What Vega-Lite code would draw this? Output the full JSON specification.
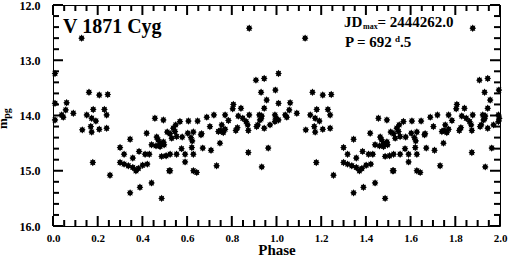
{
  "$schema": "https://vega.github.io/schema/vega-lite/v6.json",
  "width": 447,
  "height": 221,
  "autosize": {"type": "none"},
  "padding": {"left": 53, "top": 5, "right": 9, "bottom": 38},
  "background": "white",
  "datasets": {
    "pts": [
      {"phase":0.128,"mag":12.60},{"phase":0.878,"mag":12.42},{"phase":0.009,"mag":13.24},{"phase":0.908,"mag":13.36},{"phase":0.945,"mag":13.33},{"phase":0.161,"mag":13.58},{"phase":0.207,"mag":13.63},{"phase":0.245,"mag":13.62},{"phase":0.931,"mag":13.58},{"phase":0.995,"mag":13.54},{"phase":0.956,"mag":13.72},
      {"phase":0.009,"mag":13.78},{"phase":0.061,"mag":13.77},{"phase":0.057,"mag":13.90},{"phase":0.039,"mag":13.99},{"phase":0.046,"mag":14.03},{"phase":0.091,"mag":13.96},{"phase":0.009,"mag":14.08},{"phase":0.151,"mag":13.99},{"phase":0.180,"mag":13.89},{"phase":0.173,"mag":14.05},{"phase":0.192,"mag":14.10},{"phase":0.230,"mag":13.89},{"phase":0.240,"mag":13.99},{"phase":0.131,"mag":14.26},{"phase":0.169,"mag":14.20},{"phase":0.173,"mag":14.30},{"phase":0.207,"mag":14.25},{"phase":0.240,"mag":14.23},{"phase":0.178,"mag":14.85},{"phase":0.255,"mag":15.08},
      {"phase":0.300,"mag":14.58},{"phase":0.318,"mag":14.70},{"phase":0.345,"mag":14.43},{"phase":0.357,"mag":14.77},{"phase":0.385,"mag":14.65},{"phase":0.412,"mag":14.70},{"phase":0.431,"mag":14.70},{"phase":0.441,"mag":14.53},{"phase":0.461,"mag":14.55},{"phase":0.479,"mag":14.50},{"phase":0.486,"mag":14.74},{"phase":0.506,"mag":14.73},{"phase":0.300,"mag":14.85},{"phase":0.318,"mag":14.88},{"phase":0.337,"mag":14.91},{"phase":0.357,"mag":14.94},{"phase":0.371,"mag":15.00},{"phase":0.382,"mag":14.96},{"phase":0.401,"mag":14.90},{"phase":0.422,"mag":14.88},{"phase":0.345,"mag":15.40},{"phase":0.389,"mag":15.30},{"phase":0.441,"mag":15.22},{"phase":0.486,"mag":15.50},{"phase":0.520,"mag":15.00},{"phase":0.419,"mag":14.32},{"phase":0.456,"mag":14.05},{"phase":0.494,"mag":14.08},{"phase":0.464,"mag":14.39},{"phase":0.470,"mag":14.44},{"phase":0.479,"mag":14.56},{"phase":0.494,"mag":14.48},{"phase":0.511,"mag":14.30},
      {"phase":0.524,"mag":14.33},{"phase":0.531,"mag":14.41},{"phase":0.538,"mag":14.23},{"phase":0.549,"mag":14.17},{"phase":0.568,"mag":14.11},{"phase":0.606,"mag":14.10},{"phase":0.647,"mag":14.10},{"phase":0.688,"mag":14.03},{"phase":0.720,"mag":13.99},{"phase":0.770,"mag":13.99},{"phase":0.785,"mag":14.09},{"phase":0.578,"mag":14.39},{"phase":0.603,"mag":14.32},{"phase":0.617,"mag":14.40},{"phase":0.628,"mag":14.30},{"phase":0.623,"mag":14.46},{"phase":0.665,"mag":14.33},{"phase":0.702,"mag":14.20},{"phase":0.755,"mag":14.17},{"phase":0.750,"mag":14.27},{"phase":0.762,"mag":14.31},{"phase":0.770,"mag":14.25},{"phase":0.747,"mag":14.50},{"phase":0.818,"mag":14.27},{"phase":0.825,"mag":14.22},{"phase":0.874,"mag":14.27},{"phase":0.911,"mag":14.20},{"phase":0.926,"mag":14.08},{"phase":0.934,"mag":14.01},{"phase":0.945,"mag":14.23},{"phase":0.971,"mag":14.17},{"phase":0.993,"mag":14.11},{"phase":0.993,"mag":13.99},
      {"phase":0.497,"mag":14.53},{"phase":0.524,"mag":14.70},{"phase":0.553,"mag":14.70},{"phase":0.575,"mag":14.60},{"phase":0.591,"mag":14.70},{"phase":0.621,"mag":14.58},{"phase":0.628,"mag":14.70},{"phase":0.670,"mag":14.59},{"phase":0.707,"mag":14.63},{"phase":0.591,"mag":14.84},{"phase":0.524,"mag":15.00},{"phase":0.628,"mag":15.00},{"phase":0.643,"mag":15.03},{"phase":0.732,"mag":14.91},{"phase":0.934,"mag":14.93},{"phase":0.874,"mag":14.67},{"phase":0.963,"mag":14.59},
      {"phase":0.807,"mag":13.80},{"phase":0.804,"mag":13.88},{"phase":0.841,"mag":13.87},{"phase":0.945,"mag":13.87},{"phase":0.829,"mag":14.01},{"phase":0.849,"mag":14.05},{"phase":0.864,"mag":14.11},{"phase":0.878,"mag":13.99},{"phase":0.871,"mag":14.17},{"phase":0.923,"mag":13.99},{"phase":0.931,"mag":14.06},{"phase":0.916,"mag":14.17},{"phase":0.997,"mag":14.05},{"phase":0.553,"mag":14.38},{"phase":0.546,"mag":14.29},{"phase":0.662,"mag":14.35},{"phase":0.740,"mag":14.29},

      {"phase":1.128,"mag":12.60},{"phase":1.878,"mag":12.42},{"phase":1.009,"mag":13.24},{"phase":1.908,"mag":13.36},{"phase":1.945,"mag":13.33},{"phase":1.161,"mag":13.58},{"phase":1.207,"mag":13.63},{"phase":1.245,"mag":13.62},{"phase":1.931,"mag":13.58},{"phase":1.995,"mag":13.54},{"phase":1.956,"mag":13.72},
      {"phase":1.009,"mag":13.78},{"phase":1.061,"mag":13.77},{"phase":1.057,"mag":13.90},{"phase":1.039,"mag":13.99},{"phase":1.046,"mag":14.03},{"phase":1.091,"mag":13.96},{"phase":1.009,"mag":14.08},{"phase":1.151,"mag":13.99},{"phase":1.180,"mag":13.89},{"phase":1.173,"mag":14.05},{"phase":1.192,"mag":14.10},{"phase":1.230,"mag":13.89},{"phase":1.240,"mag":13.99},{"phase":1.131,"mag":14.26},{"phase":1.169,"mag":14.20},{"phase":1.173,"mag":14.30},{"phase":1.207,"mag":14.25},{"phase":1.240,"mag":14.23},{"phase":1.178,"mag":14.85},{"phase":1.255,"mag":15.08},
      {"phase":1.300,"mag":14.58},{"phase":1.318,"mag":14.70},{"phase":1.345,"mag":14.43},{"phase":1.357,"mag":14.77},{"phase":1.385,"mag":14.65},{"phase":1.412,"mag":14.70},{"phase":1.431,"mag":14.70},{"phase":1.441,"mag":14.53},{"phase":1.461,"mag":14.55},{"phase":1.479,"mag":14.50},{"phase":1.486,"mag":14.74},{"phase":1.506,"mag":14.73},{"phase":1.300,"mag":14.85},{"phase":1.318,"mag":14.88},{"phase":1.337,"mag":14.91},{"phase":1.357,"mag":14.94},{"phase":1.371,"mag":15.00},{"phase":1.382,"mag":14.96},{"phase":1.401,"mag":14.90},{"phase":1.422,"mag":14.88},{"phase":1.345,"mag":15.40},{"phase":1.389,"mag":15.30},{"phase":1.441,"mag":15.22},{"phase":1.486,"mag":15.50},{"phase":1.520,"mag":15.00},{"phase":1.419,"mag":14.32},{"phase":1.456,"mag":14.05},{"phase":1.494,"mag":14.08},{"phase":1.464,"mag":14.39},{"phase":1.470,"mag":14.44},{"phase":1.479,"mag":14.56},{"phase":1.494,"mag":14.48},{"phase":1.511,"mag":14.30},
      {"phase":1.524,"mag":14.33},{"phase":1.531,"mag":14.41},{"phase":1.538,"mag":14.23},{"phase":1.549,"mag":14.17},{"phase":1.568,"mag":14.11},{"phase":1.606,"mag":14.10},{"phase":1.647,"mag":14.10},{"phase":1.688,"mag":14.03},{"phase":1.720,"mag":13.99},{"phase":1.770,"mag":13.99},{"phase":1.785,"mag":14.09},{"phase":1.578,"mag":14.39},{"phase":1.603,"mag":14.32},{"phase":1.617,"mag":14.40},{"phase":1.628,"mag":14.30},{"phase":1.623,"mag":14.46},{"phase":1.665,"mag":14.33},{"phase":1.702,"mag":14.20},{"phase":1.755,"mag":14.17},{"phase":1.750,"mag":14.27},{"phase":1.762,"mag":14.31},{"phase":1.770,"mag":14.25},{"phase":1.747,"mag":14.50},{"phase":1.818,"mag":14.27},{"phase":1.825,"mag":14.22},{"phase":1.874,"mag":14.27},{"phase":1.911,"mag":14.20},{"phase":1.926,"mag":14.08},{"phase":1.934,"mag":14.01},{"phase":1.945,"mag":14.23},{"phase":1.971,"mag":14.17},{"phase":1.993,"mag":14.11},{"phase":1.993,"mag":13.99},
      {"phase":1.497,"mag":14.53},{"phase":1.524,"mag":14.70},{"phase":1.553,"mag":14.70},{"phase":1.575,"mag":14.60},{"phase":1.591,"mag":14.70},{"phase":1.621,"mag":14.58},{"phase":1.628,"mag":14.70},{"phase":1.670,"mag":14.59},{"phase":1.707,"mag":14.63},{"phase":1.591,"mag":14.84},{"phase":1.524,"mag":15.00},{"phase":1.628,"mag":15.00},{"phase":1.643,"mag":15.03},{"phase":1.732,"mag":14.91},{"phase":1.934,"mag":14.93},{"phase":1.874,"mag":14.67},{"phase":1.963,"mag":14.59},
      {"phase":1.807,"mag":13.80},{"phase":1.804,"mag":13.88},{"phase":1.841,"mag":13.87},{"phase":1.945,"mag":13.87},{"phase":1.829,"mag":14.01},{"phase":1.849,"mag":14.05},{"phase":1.864,"mag":14.11},{"phase":1.878,"mag":13.99},{"phase":1.871,"mag":14.17},{"phase":1.923,"mag":13.99},{"phase":1.931,"mag":14.06},{"phase":1.916,"mag":14.17},{"phase":1.997,"mag":14.05},{"phase":1.553,"mag":14.38},{"phase":1.546,"mag":14.29},{"phase":1.662,"mag":14.35},{"phase":1.740,"mag":14.29}
    ],
    "one": [{}],
    "xmaj": [{"v":0},{"v":0.2},{"v":0.4},{"v":0.6},{"v":0.8},{"v":1},{"v":1.2},{"v":1.4},{"v":1.6},{"v":1.8},{"v":2}],
    "xmin": [{"v":0.05},{"v":0.1},{"v":0.15},{"v":0.25},{"v":0.3},{"v":0.35},{"v":0.45},{"v":0.5},{"v":0.55},{"v":0.65},{"v":0.7},{"v":0.75},{"v":0.85},{"v":0.9},{"v":0.95},{"v":1.05},{"v":1.1},{"v":1.15},{"v":1.25},{"v":1.3},{"v":1.35},{"v":1.45},{"v":1.5},{"v":1.55},{"v":1.65},{"v":1.7},{"v":1.75},{"v":1.85},{"v":1.9},{"v":1.95}],
    "ymaj": [{"v":12},{"v":13},{"v":14},{"v":15},{"v":16}],
    "ymin": [{"v":12.2},{"v":12.4},{"v":12.6},{"v":12.8},{"v":13.2},{"v":13.4},{"v":13.6},{"v":13.8},{"v":14.2},{"v":14.4},{"v":14.6},{"v":14.8},{"v":15.2},{"v":15.4},{"v":15.6},{"v":15.8}]
  },
  "layer": [
    {
      "data": {"name": "pts"},
      "mark": {"type": "point", "filled": true, "color": "black", "opacity": 1, "size": 55,
        "shape": "M0,-1L0.28,-0.6L0.7,-0.72L0.55,-0.3L0.9,0L0.55,0.3L0.7,0.72L0.28,0.6L0,1L-0.28,0.6L-0.7,0.72L-0.55,0.3L-0.9,0L-0.55,-0.3L-0.7,-0.72L-0.28,-0.6Z"},
      "encoding": {
        "x": {"field": "phase", "type": "quantitative",
          "scale": {"domain": [0, 2], "nice": false, "zero": false},
          "axis": {"orient": "bottom", "values": [0,0.2,0.4,0.6,0.8,1,1.2,1.4,1.6,1.8,2], "format": ".1f",
            "ticks": false, "grid": false,
            "labelPadding": 6, "labelFlush": false, "labelFontSize": 11, "title": "Phase",
            "titleFontSize": 15, "titleY": 28, "titleBaseline": "alphabetic"}},
        "y": {"field": "mag", "type": "quantitative",
          "scale": {"domain": [12, 16], "reverse": true, "nice": false, "zero": false},
          "axis": {"orient": "left", "values": [12,13,14,15,16], "format": ".1f",
            "ticks": false, "grid": false,
            "labelPadding": 13, "labelFlush": false, "title": "m",
            "titleFontSize": 13, "titleX": -47, "titleY": 118, "titleAngle": -90,
            "titleAlign": "center", "titleBaseline": "alphabetic"}}
      }
    },
    {
      "data": {"name": "one"},
      "mark": {"type": "point", "opacity": 0},
      "encoding": {
        "x": {"datum": 1, "type": "quantitative", "axis": null},
        "y": {"datum": 14, "type": "quantitative",
          "axis": {"orient": "left", "ticks": false, "grid": false, "labels": false, "title": "pg",
            "titleFontSize": 10, "titleX": -44, "titleY": 108, "titleAngle": -90,
            "titleAlign": "center", "titleBaseline": "alphabetic"}}
      }
    },
    {
      "data": {"name": "xmaj"},
      "mark": {"type": "tick", "orient": "vertical", "size": 10, "thickness": 2, "color": "black", "opacity": 1, "yOffset": -5},
      "encoding": {"x": {"field": "v", "type": "quantitative", "axis": null}, "y": {"datum": 16, "type": "quantitative", "axis": null}}
    },
    {
      "data": {"name": "xmaj"},
      "mark": {"type": "tick", "orient": "vertical", "size": 10, "thickness": 2, "color": "black", "opacity": 1, "yOffset": 5},
      "encoding": {"x": {"field": "v", "type": "quantitative", "axis": null}, "y": {"datum": 12, "type": "quantitative", "axis": null}}
    },
    {
      "data": {"name": "xmin"},
      "mark": {"type": "tick", "orient": "vertical", "size": 6, "thickness": 2, "color": "black", "opacity": 1, "yOffset": -3},
      "encoding": {"x": {"field": "v", "type": "quantitative", "axis": null}, "y": {"datum": 16, "type": "quantitative", "axis": null}}
    },
    {
      "data": {"name": "xmin"},
      "mark": {"type": "tick", "orient": "vertical", "size": 6, "thickness": 2, "color": "black", "opacity": 1, "yOffset": 3},
      "encoding": {"x": {"field": "v", "type": "quantitative", "axis": null}, "y": {"datum": 12, "type": "quantitative", "axis": null}}
    },
    {
      "data": {"name": "ymaj"},
      "mark": {"type": "tick", "orient": "horizontal", "size": 10, "thickness": 2, "color": "black", "opacity": 1, "xOffset": 5},
      "encoding": {"y": {"field": "v", "type": "quantitative", "axis": null}, "x": {"datum": 0, "type": "quantitative", "axis": null}}
    },
    {
      "data": {"name": "ymaj"},
      "mark": {"type": "tick", "orient": "horizontal", "size": 10, "thickness": 2, "color": "black", "opacity": 1, "xOffset": -5},
      "encoding": {"y": {"field": "v", "type": "quantitative", "axis": null}, "x": {"datum": 2, "type": "quantitative", "axis": null}}
    },
    {
      "data": {"name": "ymin"},
      "mark": {"type": "tick", "orient": "horizontal", "size": 6, "thickness": 2, "color": "black", "opacity": 1, "xOffset": 3},
      "encoding": {"y": {"field": "v", "type": "quantitative", "axis": null}, "x": {"datum": 0, "type": "quantitative", "axis": null}}
    },
    {
      "data": {"name": "ymin"},
      "mark": {"type": "tick", "orient": "horizontal", "size": 6, "thickness": 2, "color": "black", "opacity": 1, "xOffset": -3},
      "encoding": {"y": {"field": "v", "type": "quantitative", "axis": null}, "x": {"datum": 2, "type": "quantitative", "axis": null}}
    },
    {
      "data": {"name": "one"},
      "mark": {"type": "text", "text": "V 1871 Cyg", "align": "left", "baseline": "alphabetic", "fontSize": 20, "fontWeight": "bold", "font": "Liberation Serif", "color": "black"},
      "encoding": {"x": {"datum": 0.045, "type": "quantitative", "axis": null}, "y": {"datum": 12.507, "type": "quantitative", "axis": null}}
    },
    {
      "data": {"name": "one"},
      "mark": {"type": "text", "text": "JD", "align": "left", "baseline": "alphabetic", "fontSize": 15, "fontWeight": "bold", "font": "Liberation Serif", "color": "black"},
      "encoding": {"x": {"datum": 1.302, "type": "quantitative", "axis": null}, "y": {"datum": 12.393, "type": "quantitative", "axis": null}}
    },
    {
      "data": {"name": "one"},
      "mark": {"type": "text", "text": "max", "align": "left", "baseline": "alphabetic", "fontSize": 8, "fontWeight": "bold", "font": "Liberation Serif", "color": "black"},
      "encoding": {"x": {"datum": 1.387, "type": "quantitative", "axis": null}, "y": {"datum": 12.43, "type": "quantitative", "axis": null}}
    },
    {
      "data": {"name": "one"},
      "mark": {"type": "text", "text": "= 2444262.0", "align": "left", "baseline": "alphabetic", "fontSize": 15, "fontWeight": "bold", "font": "Liberation Serif", "color": "black"},
      "encoding": {"x": {"datum": 1.452, "type": "quantitative", "axis": null}, "y": {"datum": 12.393, "type": "quantitative", "axis": null}}
    },
    {
      "data": {"name": "one"},
      "mark": {"type": "text", "text": "P = 692", "align": "left", "baseline": "alphabetic", "fontSize": 15, "fontWeight": "bold", "font": "Liberation Serif", "color": "black"},
      "encoding": {"x": {"datum": 1.306, "type": "quantitative", "axis": null}, "y": {"datum": 12.755, "type": "quantitative", "axis": null}}
    },
    {
      "data": {"name": "one"},
      "mark": {"type": "text", "text": "d", "align": "left", "baseline": "alphabetic", "fontSize": 9, "fontWeight": "bold", "font": "Liberation Serif", "color": "black"},
      "encoding": {"x": {"datum": 1.53, "type": "quantitative", "axis": null}, "y": {"datum": 12.67, "type": "quantitative", "axis": null}}
    },
    {
      "data": {"name": "one"},
      "mark": {"type": "text", "text": ".5", "align": "left", "baseline": "alphabetic", "fontSize": 15, "fontWeight": "bold", "font": "Liberation Serif", "color": "black"},
      "encoding": {"x": {"datum": 1.553, "type": "quantitative", "axis": null}, "y": {"datum": 12.755, "type": "quantitative", "axis": null}}
    }
  ],
  "resolve": {"axis": {"x": "independent", "y": "independent"}},
  "config": {
    "view": {"stroke": "black", "strokeWidth": 1},
    "font": "Liberation Serif",
    "axis": {"domain": false,
      "labelColor": "black", "titleColor": "black", "labelFont": "Liberation Serif", "titleFont": "Liberation Serif",
      "labelFontWeight": "bold", "titleFontWeight": "bold", "labelFontSize": 12}
  }
}
